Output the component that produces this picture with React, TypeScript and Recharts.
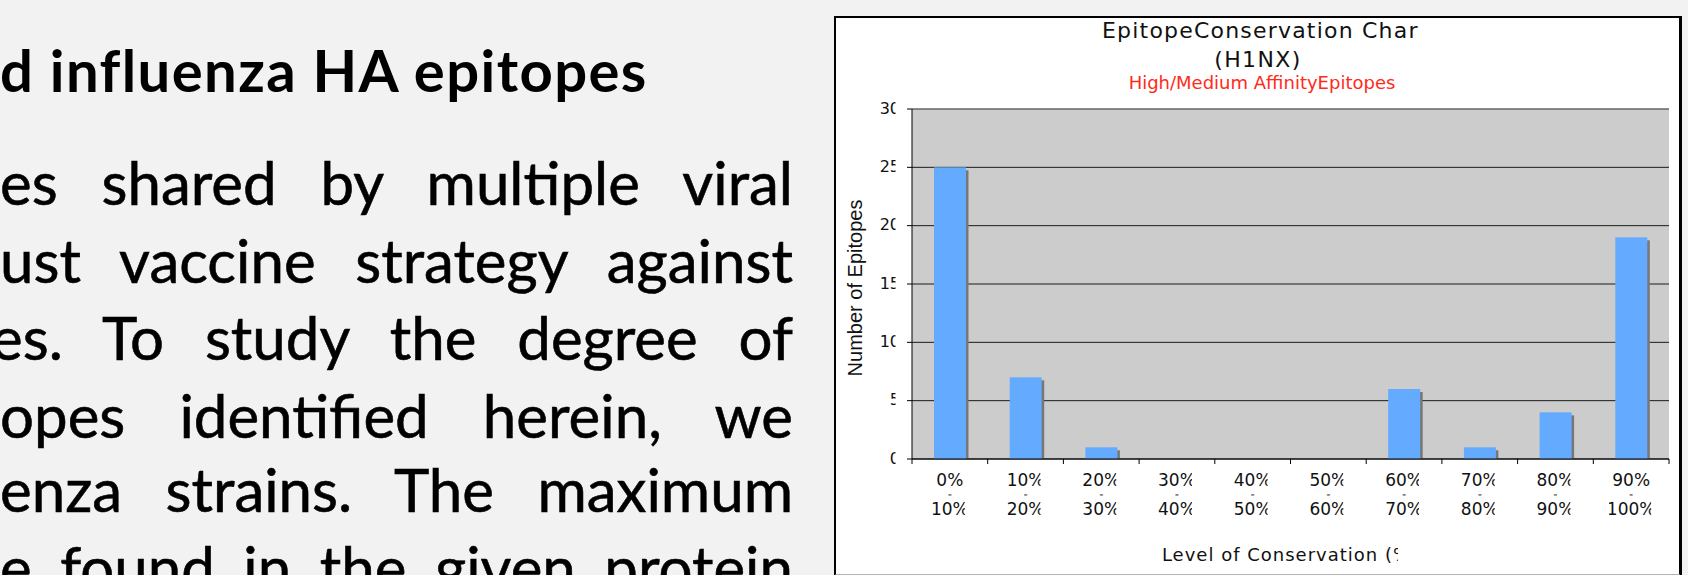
import React from "react";
import {
  BarChart,
  Bar,
  XAxis,
  YAxis,
  CartesianGrid,
  ReferenceLine,
  Label,
} from "recharts";

// conservation buckets and epitope counts (H1NX, high/medium affinity)
const categories = [
  "0% - 10%",
  "10% - 20%",
  "20% - 30%",
  "30% - 40%",
  "40% - 50%",
  "50% - 60%",
  "60% - 70%",
  "70% - 80%",
  "80% - 90%",
  "90% - 100%",
];
const epitopeCounts = [25, 7, 1, 0, 0, 0, 6, 1, 4, 19];
const yTicks = [0, 5, 10, 15, 20, 25, 30];

const slideTitle = "d influenza HA epitopes";
const slideLines = [
  "es shared by multiple viral",
  "ust vaccine strategy against",
  "es. To study the degree of",
  "opes identified herein, we",
  "enza strains. The maximum",
  "e found in the given protein",
];
const lineTops = [152, 230, 307, 385, 459, 537];
const lineShift = [0, 0, -9, 0, 0, 0];

const CHART_W = 846;
const CHART_H = 559;
const Y_AXIS_W = 78;
const X_AXIS_H = 116;
const MARGIN = { top: 93, right: 11, left: 0, bottom: 0 };
const PLOT_W = CHART_W - Y_AXIS_W - MARGIN.right;
const BAND = PLOT_W / categories.length;
const AXIS_FONT = "'DejaVu Sans', Verdana, sans-serif";

const data = categories.map((range, i) => ({ range, count: epitopeCounts[i] }));

const ShadowBar = (props: any) => {
  const { x, y, width, height } = props;
  if (!height || height <= 0) return null;
  return (
    <g>
      <rect x={x + 2.5} y={y + 3} width={width} height={Math.max(height - 3, 0)} fill="#777777" />
      <rect x={x} y={y} width={width} height={height} fill="#64aaff" />
    </g>
  );
};

// wrapped "from - to" labels, tick marks on the category borders
const XTick = (props: any) => {
  const { x, y, payload, index } = props;
  const half = BAND / 2;
  const [from, to] = String(payload.value).split(" - ");
  const clipR = to.length > 3 ? 20 : 15;
  const clip = `url(#xclip-${index})`;
  return (
    <g>
      <line x1={x - half} y1={y} x2={x - half} y2={y + 5} stroke="#000" />
      {index === categories.length - 1 && (
        <line x1={x + half} y1={y} x2={x + half} y2={y + 5} stroke="#000" />
      )}
      <clipPath id={`xclip-${index}`}>
        <rect x={x - 22} y={y} width={22 + clipR} height={80} />
      </clipPath>
      <g fontFamily={AXIS_FONT} fill="#111" textAnchor="middle" clipPath={clip}>
        <text x={x} y={y + 27} fontSize={17}>{from}</text>
        <text x={x} y={y + 38.2} fontSize={7.5} fontWeight={700}>–</text>
        <text x={x} y={y + 56} fontSize={17}>{to}</text>
      </g>
    </g>
  );
};

const YTick = (props: any) => {
  const { x, y, payload, index } = props;
  return (
    <g>
      <clipPath id={`yclip-${index}`}>
        <rect x={0} y={y - 20} width={x - 4.5} height={40} />
      </clipPath>
      <text
        x={x}
        y={y}
        dy={4.5}
        textAnchor="end"
        fontFamily={AXIS_FONT}
        fontSize={16}
        fill="#111"
        clipPath={`url(#yclip-${index})`}
      >
        {payload.value}
      </text>
    </g>
  );
};

const YTitle = () => {
  const cy = MARGIN.top + (CHART_H - X_AXIS_H - MARGIN.top) / 2 + 4;
  return (
    <text
      x={28}
      y={cy}
      transform={`rotate(-90, 28, ${cy})`}
      textAnchor="middle"
      fontFamily="'Liberation Sans', Arial, sans-serif"
      fontSize={20}
      fill="#111"
    >
      Number of Epitopes
    </text>
  );
};

const XTitle = () => {
  const cx = Y_AXIS_W + PLOT_W / 2;
  const by = CHART_H - X_AXIS_H + 102;
  return (
    <g>
      <clipPath id="xtitle-clip">
        <rect x={0} y={by - 30} width={cx + 107.5} height={40} />
      </clipPath>
      <text
        x={cx}
        y={by}
        textAnchor="middle"
        fontFamily={AXIS_FONT}
        fontSize={18}
        letterSpacing={1}
        fill="#111"
        clipPath="url(#xtitle-clip)"
      >
        Level of Conservation (%)
      </text>
    </g>
  );
};

const EpitopeChart = () => (
  <BarChart width={CHART_W} height={CHART_H} data={data} margin={MARGIN} barSize={32}>
    <CartesianGrid vertical={false} stroke="#1a1a1a" fill="#cccccc" />
    <XAxis
      dataKey="range"
      interval={0}
      height={X_AXIS_H}
      tickLine={false}
      tickSize={0}
      tickMargin={0}
      axisLine={{ stroke: "#000" }}
      tick={XTick}
    >
      <Label content={XTitle} />
    </XAxis>
    <YAxis
      domain={[0, 30]}
      ticks={yTicks}
      width={Y_AXIS_W}
      tickSize={5}
      tickMargin={7}
      tickLine={{ stroke: "#000" }}
      axisLine={{ stroke: "#000" }}
      tick={YTick}
      interval={0}
    >
      <Label content={YTitle} />
    </YAxis>
    <YAxis
      yAxisId="right"
      orientation="right"
      width={0}
      domain={[0, 30]}
      tick={false}
      tickLine={false}
      axisLine={{ stroke: "#8c8c8c" }}
    />
    <ReferenceLine y={30} stroke="#8c8c8c" />
    <Bar dataKey="count" shape={ShadowBar} isAnimationActive={false} />
  </BarChart>
);

export default function App() {
  return (
    <div
      style={{
        position: "fixed",
        left: 0,
        top: 0,
        width: 1688,
        height: 575,
        background: "#f2f2f2",
        overflow: "hidden",
        color: "#000",
      }}
    >
      <div
        style={{
          position: "absolute",
          left: 0,
          top: 41,
          fontFamily: "Lato, 'Open Sans', sans-serif",
          fontWeight: 700,
          fontSize: 58,
          lineHeight: "58px",
          letterSpacing: 1.4,
          whiteSpace: "nowrap",
        }}
      >
        {slideTitle}
      </div>
      {slideLines.map((line, i) => (
        <div
          key={i}
          style={{
            position: "absolute",
            left: lineShift[i],
            top: lineTops[i],
            width: 793 - lineShift[i],
            fontFamily: "Lato, 'Open Sans', sans-serif",
            fontSize: 60,
            lineHeight: "60px",
            textAlign: "justify",
            textAlignLast: "justify",
            WebkitTextStroke: "0.6px #000",
          }}
        >
          {line}
        </div>
      ))}

      <div
        style={{
          position: "absolute",
          left: 834,
          top: 16,
          width: 843,
          height: 556,
          background: "#fff",
          borderTop: "2px solid #000",
          borderLeft: "2px solid #000",
          borderRight: "3px solid #000",
          borderBottom: "2px solid #b4b4b4",
        }}
      />
      <div style={{ position: "absolute", left: 834, top: 16, width: CHART_W, height: CHART_H }}>
        <EpitopeChart />
      </div>

      <div
        style={{
          position: "absolute",
          left: 1102,
          top: 20,
          width: 317,
          overflow: "hidden",
          whiteSpace: "nowrap",
          fontFamily: AXIS_FONT,
          fontSize: 22,
          lineHeight: "22px",
          letterSpacing: 1.2,
          color: "#111",
        }}
      >
        EpitopeConservation Chart
      </div>
      <div
        style={{
          position: "absolute",
          left: 1158,
          top: 49,
          width: 200,
          textAlign: "center",
          whiteSpace: "nowrap",
          fontFamily: AXIS_FONT,
          fontSize: 22,
          lineHeight: "22px",
          letterSpacing: 1.4,
          color: "#111",
        }}
      >
        (H1NX)
      </div>
      <div
        style={{
          position: "absolute",
          left: 1112,
          top: 74,
          width: 300,
          textAlign: "center",
          whiteSpace: "nowrap",
          fontFamily: AXIS_FONT,
          fontSize: 18,
          lineHeight: "18px",
          color: "#ff2a1a",
        }}
      >
        High/Medium AffinityEpitopes
      </div>
    </div>
  );
}
